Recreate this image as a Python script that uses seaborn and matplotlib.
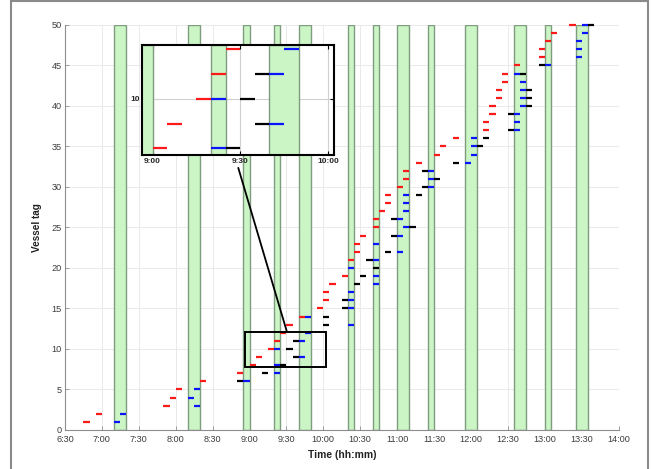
import matplotlib
matplotlib.use("Agg")
import numpy as np
import pandas as pd
import matplotlib.pyplot as plt
import seaborn as sns
from matplotlib.patches import Rectangle, ConnectionPatch

# ---------------- data ----------------
tags = list(range(1, 51))
red_times = ["6:45", "6:55", "7:50", "7:55", "8:00", "8:20", "8:50", "9:00", "9:05", "9:15",
             "9:20", "9:25", "9:30", "9:40", "9:55", "10:00", "10:00", "10:05", "10:15", None,
             "10:20", "10:25", "10:25", "10:30", "10:40", "10:40", "10:45", "10:50", "10:50", "11:00",
             "11:05", "11:05", "11:15", "11:30", "11:35", "11:45", "12:10", "12:10", "12:15", "12:15",
             "12:20", "12:20", "12:25", "12:25", "12:35", "12:55", "12:55", "13:00", "13:05", "13:20"]
black_times = [None, None, None, None, None, "8:50", "9:10", "9:25", "9:35", "9:30",
               "9:35", None, "10:00", "10:00", "10:15", "10:15", None, "10:25", "10:30", "10:40",
               "10:35", "10:50", None, "10:55", "11:10", "10:55", None, None, "11:15", "11:20",
               "11:30", "11:20", "11:45", None, "12:05", "12:10", "12:30", None, "12:30", "12:45",
               "12:45", "12:45", None, "12:40", "12:55", None, None, None, None, "13:35"]
blue_times = ["7:10", "7:15", "8:15", "8:10", "8:15", "8:55", "9:20", "9:20", "9:40", "9:20",
              "9:40", "9:45", "10:20", "9:45", "10:20", "10:20", "10:20", "10:40", "10:40", "10:20",
              "10:40", "11:00", "10:40", "11:00", "11:05", "11:00", "11:05", "11:05", "11:05", "11:25",
              "11:25", "11:25", "11:55", "12:00", "12:00", "12:00", "12:35", "12:35", "12:35", "12:40",
              "12:40", "12:40", "12:40", "12:35", "13:00", "13:25", "13:25", "13:25", "13:30", "13:30"]
dash_minutes = 5

band_start = ["7:10", "8:10", "8:55", "9:20", "9:40", "10:20", "10:40", "11:00", "11:25",
              "11:55", "12:35", "13:00", "13:25"]
band_end = ["7:20", "8:20", "9:00", "9:25", "9:50", "10:25", "10:45", "11:10", "11:30",
            "12:05", "12:45", "13:05", "13:35"]

x_ticks = ["6:30", "7:00", "7:30", "8:00", "8:30", "9:00", "9:30", "10:00", "10:30",
           "11:00", "11:30", "12:00", "12:30", "13:00", "13:30", "14:00"]
y_ticks = [0, 5, 10, 15, 20, 25, 30, 35, 40, 45, 50]

inset_xlim = ["8:56.5", "10:02.2"]
inset_ylim = [7.75, 12.15]
inset_xticks = ["9:00", "9:30", "10:00"]
inset_yticks = [10]


def to_min(s):
    h, m = s.split(":")
    return int(h) * 60 + float(m)


rows = []
seg = 0
for kind, times in [("red", red_times), ("black", black_times), ("blue", blue_times)]:
    for tag, t in zip(tags, times):
        if t is None:
            continue
        m0 = to_min(t)
        rows.append(dict(t=m0, tag=tag, kind=kind, seg=seg))
        rows.append(dict(t=m0 + dash_minutes, tag=tag, kind=kind, seg=seg))
        seg += 1
df = pd.DataFrame(rows)
palette = {"red": "#ff1a1a", "black": "#000000", "blue": "#0a14ff"}

# ---------------- style ----------------
sns.set_theme(style="whitegrid")
plt.rcParams["font.family"] = ["Liberation Sans", "DejaVu Sans"]

band_face = "#cbf5c5"
band_edge = "#7f9c7f"
axis_gray = "#8c8c8c"
grid_gray = "#e6e6e6"

fig = plt.figure(figsize=(6.53, 4.69), dpi=100)
ax = fig.add_axes([0.0995, 0.0832, 0.8478, 0.8635])


def draw_content(a, lw):
    for s, e in zip(band_start, band_end):
        a.axvspan(to_min(s), to_min(e), facecolor=band_face, edgecolor=band_edge,
                  linewidth=1.0, zorder=1)
    sns.lineplot(data=df, x="t", y="tag", hue="kind", units="seg", estimator=None,
                 sort=False, palette=palette, hue_order=["red", "black", "blue"],
                 linewidth=lw, legend=False, ax=a, solid_capstyle="butt", zorder=3)


draw_content(ax, 1.6)
for ln in ax.get_lines():
    ln.set_clip_on(False)

ax.set_xlim(to_min(x_ticks[0]), to_min(x_ticks[-1]))
ax.set_ylim(0, 50)
ax.set_xticks([to_min(t) for t in x_ticks])
ax.set_xticklabels(x_ticks)
ax.set_yticks(y_ticks)
ax.set_yticklabels([str(v) for v in y_ticks])
ax.grid(True, color=grid_gray, linewidth=0.6)
ax.set_axisbelow(True)
for sp in ["top", "right"]:
    ax.spines[sp].set_visible(False)
for sp in ["left", "bottom"]:
    ax.spines[sp].set_color(axis_gray)
    ax.spines[sp].set_linewidth(0.8)
ax.tick_params(axis="both", direction="in", length=3, width=0.6, color=axis_gray,
               labelsize=6.6, labelcolor="#3c3c3c")
ax.tick_params(axis="x", bottom=True, pad=3.8)
ax.tick_params(axis="y", left=True, pad=2.5)
ax.set_xlabel("Time (hh:mm)", fontsize=7.4, fontweight="bold", color="#222222", labelpad=4)
ax.set_ylabel("Vessel tag", fontsize=7.2, fontweight="bold", color="#222222", labelpad=7)

# zoom rectangle on main axes
ix0, ix1 = to_min(inset_xlim[0]), to_min(inset_xlim[1])
ax.add_patch(Rectangle((ix0, inset_ylim[0]), ix1 - ix0, inset_ylim[1] - inset_ylim[0],
                       fill=False, edgecolor="black", linewidth=1.4, zorder=5))

# ---------------- inset ----------------
axi = fig.add_axes([0.2179, 0.6701, 0.2940, 0.2339])
axi.set_facecolor("white")
draw_content(axi, 1.6)
axi.set_xlim(ix0, ix1)
axi.set_ylim(*inset_ylim)
axi.set_xticks([to_min(t) for t in inset_xticks])
axi.set_xticklabels(inset_xticks)
axi.set_yticks(inset_yticks)
axi.set_yticklabels([str(v) for v in inset_yticks])
axi.grid(True, color="#d0d0d0", linewidth=0.8)
axi.set_axisbelow(True)
axi.set_xlabel("")
axi.set_ylabel("")
for sp in axi.spines.values():
    sp.set_visible(True)
    sp.set_color("black")
    sp.set_linewidth(1.5)
axi.tick_params(axis="both", direction="in", length=3, width=0.8, color="black",
                labelsize=6, pad=2, top=True, right=True, bottom=True, left=True)
for lab in axi.get_xticklabels() + axi.get_yticklabels():
    lab.set_fontweight("bold")

# connector line
mid = 0.5 * (ix0 + ix1)
con = ConnectionPatch(xyA=(mid, -0.12), coordsA=axi.get_xaxis_transform(),
                      xyB=(mid + 1, inset_ylim[1]), coordsB=ax.transData,
                      color="black", linewidth=1.3, zorder=6)
fig.add_artist(con)

# figure border
fig.add_artist(Rectangle((10.5 / 653, -0.02), (648 - 10.5) / 653, 1.0 - 1.5 / 469 + 0.02,
                         transform=fig.transFigure, fill=False, edgecolor="#8a8a8a",
                         linewidth=1.5))

fig.savefig("out.png", dpi=100)
